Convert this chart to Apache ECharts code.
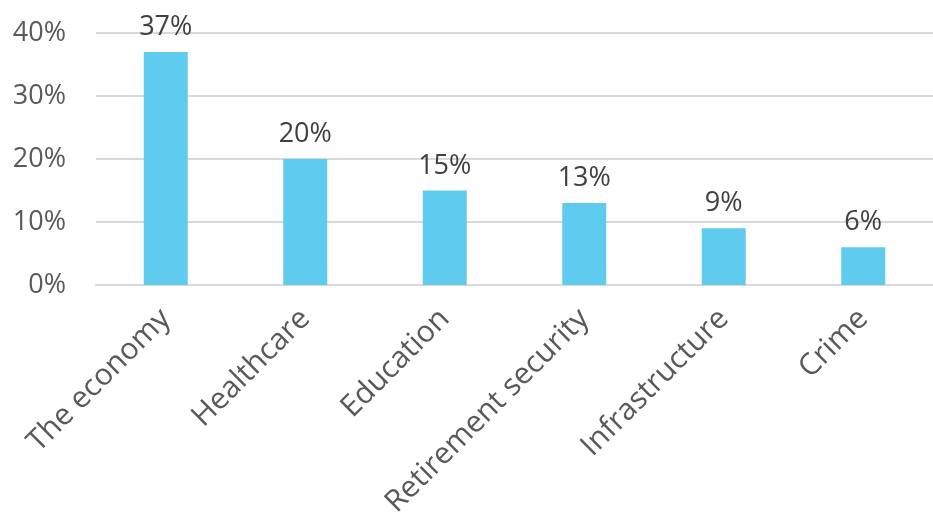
<!DOCTYPE html>
<html>
<head>
<meta charset="utf-8">
<script src="https://cdn.jsdelivr.net/npm/echarts@6/dist/echarts.min.js"></script>
<style>
  html, body { margin: 0; padding: 0; background: #fff; }
  #chart { width: 933px; height: 528px; }
</style>
</head>
<body>
<div id="chart"></div>
<script>
var categories = ['The economy', 'Healthcare', 'Education', 'Retirement security', 'Infrastructure', 'Crime'];
var shares = [37, 20, 15, 13, 9, 6];
var yTicks = [0, 10, 20, 30, 40];

var option = {
    animation: false,
    textStyle: {fontFamily: 'Open Sans'},
    grid: {
        left: 96,
        top: 33,
        width: 840,
        bottom: 243
    },
    xAxis: {
        type: 'category',
        data: categories,
        axisLine: {show: true, lineStyle: {color: '#D9D9D9', width: 2}},
        axisTick: {show: false},
        axisLabel: {
            rotate: 45,
            interval: 0,
            margin: 29,
            fontSize: 30,
            color: '#595959'
        }
    },
    yAxis: {
        type: 'value',
        min: yTicks[0],
        max: yTicks[yTicks.length - 1],
        interval: 10,
        axisLine: {show: false},
        axisTick: {show: false},
        splitLine: {lineStyle: {color: '#D9D9D9', width: 2}},
        axisLabel: {
            margin: 30,
            fontSize: 27,
            color: '#595959',
            formatter: function (value) {
                return value + '%';
            }
        }
    },
    series: [
        {
            type: 'bar',
            barWidth: 44,
            itemStyle: {color: '#5ECBEF'},
            label: {
                show: true,
                position: 'top',
                distance: 11,
                fontSize: 27,
                color: '#404040',
                formatter: '{c}%'
            },
            data: shares
        }
    ]
};
var chart = echarts.init(document.getElementById('chart'));
chart.setOption(option);
</script>
</body>
</html>
